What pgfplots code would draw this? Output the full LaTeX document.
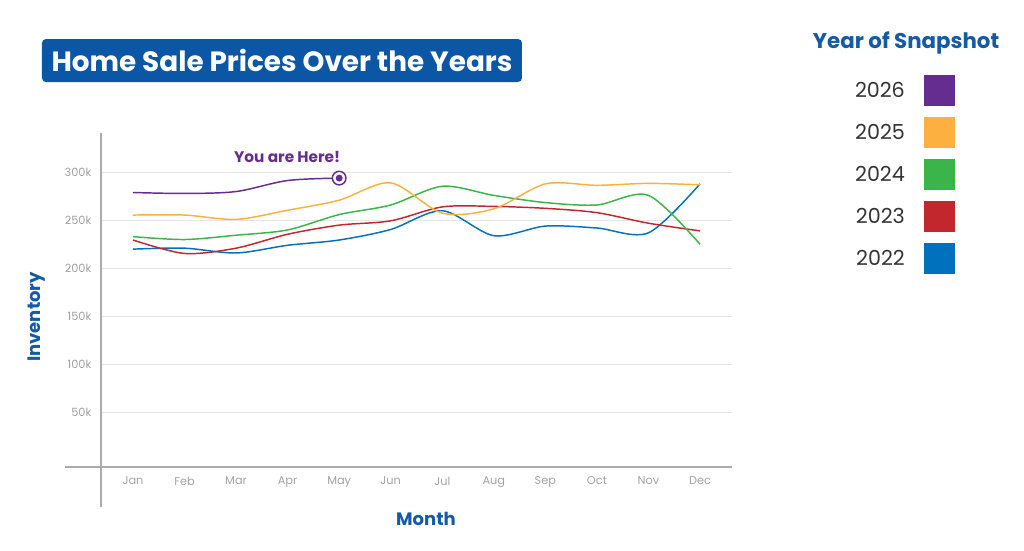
\documentclass[border=0pt]{standalone}
\usepackage{fontspec}
\setmainfont{Poppins}
\usepackage{pgfplots}
\pgfplotsset{compat=1.18}
\definecolor{c22}{HTML}{0071BC}
\definecolor{c23}{HTML}{C1272D}
\definecolor{c24}{HTML}{39B54A}
\definecolor{c25}{HTML}{FBB040}
\definecolor{c26}{HTML}{662D91}
\definecolor{titleblue}{HTML}{0B56A5}
\definecolor{labelblue}{HTML}{155AA5}
\definecolor{tickgray}{HTML}{A3A3A3}
\definecolor{gridgray}{HTML}{E6E6E6}
\definecolor{axisgray}{HTML}{ABABAB}
\definecolor{textdark}{HTML}{333333}

\pgfdeclareplotmark{here}{%
  \pgfsetlinewidth{1.1pt}%
  \pgfsetfillcolor{white}%
  \pgfpathcircle{\pgfpointorigin}{5.1pt}\pgfusepathqfillstroke
  \pgfsetfillcolor{c26}%
  \pgfpathcircle{\pgfpointorigin}{2.6pt}\pgfusepathqfill}

\begin{document}
\begin{tikzpicture}
\path[use as bounding box] (0pt,0pt) rectangle (768pt,412.5pt);
\begin{axis}[
  at={(75.75pt,62.25pt)}, anchor=south west,
  scale only axis, width=473.25pt, height=250.5pt,
  xmin=-0.62, xmax=11.62, ymin=-7, ymax=341,
  clip=false,
  axis line style={draw=none},
  tick style={draw=none},
  xtick={0,...,11},
  xticklabels={Jan,Feb,Mar,Apr,May,Jun,Jul,Aug,Sep,Oct,Nov,Dec},
  ytick={50,100,150,200,250,300},
  yticklabels={50k,100k,150k,200k,250k,300k},
  ymajorgrids, grid style={gridgray, line width=0.8pt},
  ticklabel style={font=\fontsize{8.5}{10}\selectfont, text=tickgray},
  yticklabel style={xshift=-3.7pt},
  xticklabel style={yshift=-3.75pt},
  xlabel={Month}, ylabel={Inventory},
  every axis x label/.style={at={(axis description cs:0.515,-0.156)}, anchor=center,
     font=\fontsize{13.5}{16}\selectfont\bfseries, text=labelblue},
  every axis y label/.style={at={(axis description cs:-0.1014,0.449)}, anchor=center, rotate=90,
     font=\fontsize{13.5}{16}\selectfont\bfseries, text=labelblue},
  title={Home Sale Prices Over the Years},
  title style={at={(axis description cs:0.2868,1.193)}, anchor=center,
     fill=titleblue, text=white, rounded corners=3pt, inner sep=0pt,
     minimum width=360pt, minimum height=32.25pt,
     font=\fontsize{20.9}{24}\selectfont\bfseries},
  legend plot pos=right, legend cell align=right, reverse legend,
  legend image code/.code={\fill[#1] (0pt,-11.25pt) rectangle (22.5pt,11.25pt);},
  legend style={at={(axis description cs:1.3534,1.1737)}, anchor=north east,
     draw=none, fill=none, inner sep=0pt, outer sep=0pt, row sep=7.9pt,
     font=\fontsize{15.5}{18}\selectfont, text=textdark,
     nodes={inner sep=0pt},
     /tikz/every odd column/.append style={column sep=14pt}},
]
\draw[axisgray, line width=0.8pt] (axis description cs:-0.057,0) -- (axis description cs:1,0);
\draw[axisgray, line width=0.8pt] (axis description cs:0,-0.1198) -- (axis description cs:0,1);

\addplot[c22, line width=1.1pt, smooth] coordinates {
 (0,220) (1,221) (2,216) (3,224) (4,229.5) (5,240.5) (6,260) (7,234) (8,244) (9,242) (10,237) (11,288)};
\addlegendentry{2022}
\addplot[c23, line width=1.1pt, smooth] coordinates {
 (0,229.5) (1,215.5) (2,221) (3,235.5) (4,245) (5,249.5) (6,264) (7,264.5) (8,262.5) (9,258) (10,247) (11,239)};
\addlegendentry{2023}
\addplot[c24, line width=1.1pt, smooth] coordinates {
 (0,233) (1,230) (2,234.5) (3,240) (4,256) (5,266) (6,285.5) (7,276) (8,268.5) (9,266) (10,276) (11,225)};
\addlegendentry{2024}
\addplot[c25, line width=1.1pt, smooth] coordinates {
 (0,255.5) (1,255.5) (2,251) (3,260.5) (4,271) (5,289) (6,257.5) (7,262) (8,288) (9,286.5) (10,288.5) (11,287)};
\addlegendentry{2025}
\addplot[c26, line width=1.1pt, smooth, mark=here, mark indices={5}] coordinates {
 (0,279) (1,278) (2,280) (3,291.5) (4,294)};
\addlegendentry{2026}

\node[font=\fontsize{11.5}{14}\selectfont\bfseries, text=c26, anchor=center]
  at (axis cs:4,294) [xshift=-39pt, yshift=15.75pt] {You are Here!};
\node[font=\fontsize{16}{19}\selectfont\bfseries, text=labelblue, anchor=center]
  at (axis description cs:1.2758,1.2694) {Year of Snapshot};
\end{axis}
\end{tikzpicture}
\end{document}
